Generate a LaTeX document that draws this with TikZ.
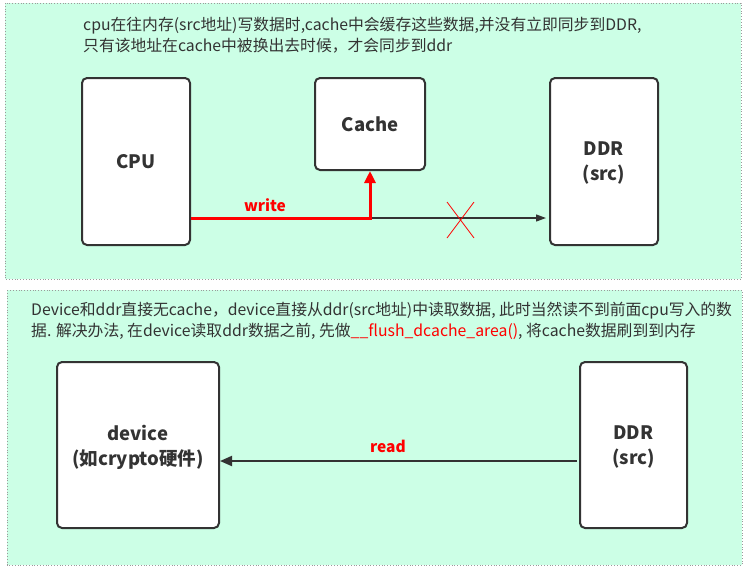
\documentclass[tikz,border=0pt]{standalone}
\usepackage{fontspec}
\setmainfont{Noto Sans CJK SC}
\usetikzlibrary{arrows.meta}
\definecolor{mint}{HTML}{CCFFE6}
\definecolor{dk}{HTML}{333333}
\definecolor{brd}{HTML}{9A9A9A}
\tikzset{
  panel/.style={draw=brd, fill=mint, line width=0.8pt, dotted},
  box/.style={draw=dk, fill=white, line width=2pt, rounded corners=5pt, align=center,
    font=\fontsize{18.5}{25}\selectfont\bfseries, text=dk},
  boxtext/.style={align=center, inner sep=0pt, font=\fontsize{18.5}{25}\selectfont\bfseries, text=dk},
  note/.style={anchor=west, inner sep=0pt, font=\fontsize{15.8}{18}\selectfont, text=dk},
  lbl/.style={font=\fontsize{15.5}{18}\selectfont\bfseries, text=red, inner sep=0pt},
  redline/.style={draw=red, line width=3pt, -{Triangle[length=12pt,width=11pt]}},
  thinarrow/.style={draw=dk, line width=1.2pt, -{Triangle[length=10pt,width=7pt]}},
  readarrow/.style={draw=dk, line width=2pt, -{Triangle[length=12pt,width=10pt]}},
  xmark/.style={draw=red, line width=0.8pt}
}
\begin{document}
\begin{tikzpicture}[x=1pt,y=-1pt]
\useasboundingbox (0,0) rectangle (751,571);
% panels
\path[panel] (5,3) rectangle (741,279);
\path[panel] (7,290) rectangle (742,565);
% top notes
\node[note] (t1) at (83,26) {cpu在往内存(src地址)写数据时,cache中会缓存这些数据,并没有立即同步到DDR,};
\node[note] (t2) at (83,46) {只有该地址在cache中被换出去时候，才会同步到ddr};
% top boxes
\node[box, minimum width=108pt, minimum height=167pt] (cpu) at (136,161.5) {CPU};
\node[box, minimum width=110pt, minimum height=92pt] (cache) at (370,124) {Cache};
\node[box, minimum width=108pt, minimum height=167pt] (ddr1) at (604,161.5) {};
\node[boxtext] (ddr1t) at (604,163) {DDR\\(src)};
% connectors top
\coordinate (j) at (370,218);
\coordinate (jend) at (546,218);
\draw[thinarrow] (j) -- (jend);
\draw[redline] (cpu.east |- j) -- (j) -- (cache.south);
\node[lbl] (w) at (265,205) {write};
\coordinate (xa) at (447,202);
\coordinate (xb) at (474,238);
\coordinate (xc) at (474,202);
\coordinate (xd) at (447,238);
\draw[xmark] (xa) -- (xb);
\draw[xmark] (xc) -- (xd);
% bottom notes
\node[note] (b1) at (31,311) {Device和ddr直接无cache，device直接从ddr(src地址)中读取数据, 此时当然读不到前面cpu写入的数};
\node[note] (b2) at (31,331) {据. 解决办法, 在device读取ddr数据之前, 先做\textcolor{red}{\_\_flush\_dcache\_area()}, 将cache数据刷到到内存};
% bottom boxes
\node[box, minimum width=162pt, minimum height=166pt] (dev) at (138,445) {};
\node[boxtext] (devt) at (138,447) {device\\(如crypto硬件)};
\node[box, minimum width=107pt, minimum height=166pt] (ddr2) at (633.5,445) {};
\node[boxtext] (ddr2t) at (633.5,447) {DDR\\(src)};
\coordinate (ra) at (577,461);
\draw[readarrow] (ra) -- (dev.east |- ra);
\node[lbl] (r) at (388,446) {read};
\end{tikzpicture}
\end{document}
